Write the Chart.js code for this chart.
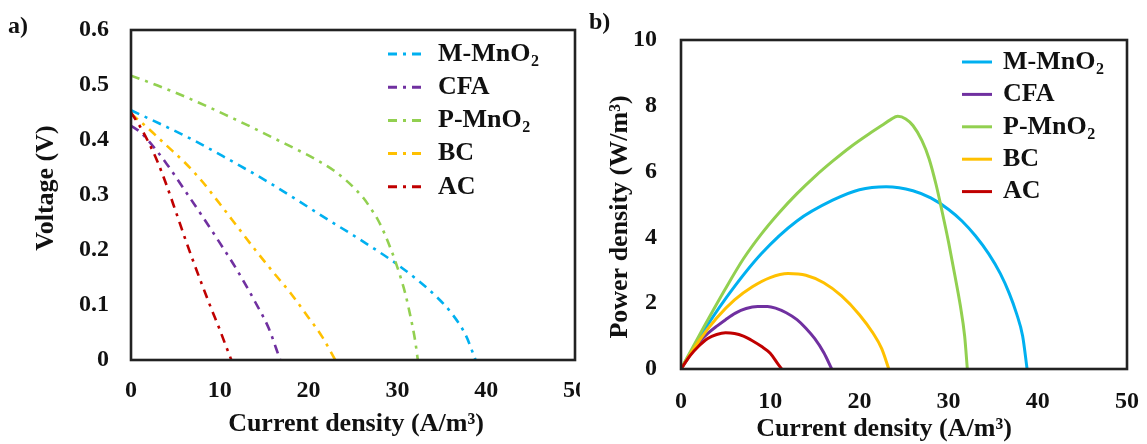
<!DOCTYPE html>
<html><head><meta charset="utf-8">
<script src="https://cdn.jsdelivr.net/npm/chart.js@4"></script>
<style>
html,body{margin:0;padding:0;background:#fff;width:1147px;height:444px;overflow:hidden;}
#ca{position:absolute;left:0;top:0;}
#cb{position:absolute;left:580px;top:0;}
.lab{position:absolute;font:bold 24px "Liberation Serif";color:#111;line-height:1;}
</style></head><body>
<canvas id="ca" width="580" height="444"></canvas>
<canvas id="cb" width="567" height="444"></canvas>
<div class="lab" style="left:8px;top:13px">a)</div>
<div class="lab" style="left:589px;top:9px">b)</div>
<script>
// ---------- data ----------
const seriesNames = ['M-MnO₂', 'CFA', 'P-MnO₂', 'BC', 'AC'];
const seriesColors = ['#00b0f0', '#7030a0', '#92d050', '#ffc000', '#c00000'];
const xTitle = 'Current density (A/m³)';
const yTitleA = 'Voltage (V)';
const yTitleB = 'Power density (W/m³)';

// panel a: voltage (V) vs current density (A/m3)
const iV_M = [0, 3.2, 7, 10.3, 12.4, 15.3, 18.6, 21.5, 24.9, 27.8, 29.8, 32.3, 34.4, 36.1, 37.7, 38.8];
const v_M  = [0.454, 0.43, 0.40, 0.371, 0.352, 0.325, 0.292, 0.262, 0.228, 0.198, 0.176, 0.145, 0.115, 0.085, 0.045, 0];
const iV_C = [0, 1, 2, 4, 6, 8, 10, 12, 14, 15.5, 16.8];
const v_C  = [0.426, 0.415, 0.398, 0.357, 0.31, 0.262, 0.213, 0.162, 0.105, 0.058, 0];
const iV_P = [0, 3, 6.2, 9, 11, 13.5, 16.5, 19, 20.9, 22.8, 24.2, 25.3, 26.2, 26.9, 27.8, 28.6, 29.3, 29.8, 30.4, 30.9, 31.5, 32, 32.3];
const v_P  = [0.517, 0.499, 0.478, 0.458, 0.443, 0.424, 0.40, 0.38, 0.364, 0.345, 0.327, 0.31, 0.294, 0.278, 0.255, 0.228, 0.2, 0.178, 0.148, 0.12, 0.077, 0.035, 0];
const iV_B = [0, 2, 4, 6, 8, 10, 12, 14, 16, 18, 20, 21.5, 23];
const v_B  = [0.448, 0.42, 0.39, 0.36, 0.325, 0.284, 0.242, 0.2, 0.16, 0.121, 0.077, 0.043, 0];
const iV_A = [0, 1, 2, 3, 4, 5, 6, 7, 8, 9, 10, 10.7, 11.3];
const v_A  = [0.45, 0.425, 0.395, 0.36, 0.318, 0.272, 0.225, 0.18, 0.137, 0.095, 0.055, 0.025, 0];

// panel b: power density (W/m3) vs current density (A/m3)
const iP_M = [0, 2, 4.9, 9, 13, 17, 20, 23, 26, 28, 30, 31.5, 33, 34.5, 35.8, 36.8, 37.6, 38.3, 38.8];
const p_M  = [0, 0.92, 2.1, 3.5, 4.5, 5.13, 5.45, 5.54, 5.42, 5.2, 4.85, 4.5, 4.05, 3.5, 2.9, 2.3, 1.7, 1.0, 0];
const iP_C = [0, 1, 2, 3, 4.1, 5, 6.1, 7.3, 8.6, 9.7, 10.6, 11.8, 13, 14, 15, 16, 16.9];
const p_C  = [0, 0.42, 0.8, 1.08, 1.32, 1.5, 1.7, 1.84, 1.9, 1.9, 1.85, 1.71, 1.5, 1.24, 0.92, 0.5, 0];
const iP_P = [0, 2, 4.9, 7, 9, 11, 13, 15, 17.1, 19, 21.1, 22.5, 23.5, 24.3, 25.2, 26, 27, 27.8, 28.6, 29.3, 30, 30.7, 31.3, 31.8, 32.1];
const p_P  = [0, 1.0, 2.4, 3.35, 4.1, 4.75, 5.33, 5.85, 6.34, 6.75, 7.15, 7.4, 7.58, 7.68, 7.6, 7.4, 6.95, 6.4, 5.6, 4.75, 3.85, 2.85, 1.95, 1.0, 0];
const iP_B = [0, 2, 4, 6, 8, 10, 12, 14, 16, 18, 20, 21.5, 22.5, 23.3];
const p_B  = [0, 0.85, 1.55, 2.1, 2.5, 2.78, 2.9, 2.85, 2.62, 2.22, 1.65, 1.1, 0.62, 0];
const iP_A = [0, 1, 2, 3, 4, 5, 6, 7, 8, 9, 10, 10.8, 11.3];
const p_A  = [0, 0.4, 0.7, 0.93, 1.05, 1.1, 1.08, 1.0, 0.86, 0.69, 0.48, 0.18, 0];

const xTicks = [0, 10, 20, 30, 40, 50];
const yTicksA = [0, 0.1, 0.2, 0.3, 0.4, 0.5, 0.6];
const yTicksB = [0, 2, 4, 6, 8, 10];

// ---------- helpers ----------
const FONT = 'Liberation Serif';
const TXT = '#111';
function pts(xs, ys) { return xs.map((x, i) => ({x: x, y: ys[i]})); }

const boxLegend = {
  id: 'boxLegend',
  afterDatasetsDraw(chart, args, o) {
    const ctx = chart.ctx, a = chart.chartArea;
    ctx.save();
    ctx.strokeStyle = '#222';
    ctx.lineWidth = 2.6;
    ctx.strokeRect(a.left, a.top, a.right - a.left, a.bottom - a.top);
    // axis titles
    ctx.fillStyle = TXT;
    ctx.textAlign = 'center';
    ctx.textBaseline = 'middle';
    ctx.font = 'bold 26px "' + FONT + '"';
    ctx.fillText(o.xt.text, o.xt.x, o.xt.y);
    ctx.save();
    ctx.translate(o.yt.x, o.yt.y);
    ctx.rotate(-Math.PI / 2);
    ctx.fillText(o.yt.text, 0, 0);
    ctx.restore();
    // legend
    chart.data.datasets.forEach((ds, i) => {
      const y = o.y0 + i * o.dy;
      ctx.strokeStyle = ds.borderColor;
      ctx.lineWidth = 3;
      ctx.setLineDash(o.dash || []);
      ctx.beginPath(); ctx.moveTo(o.x0, y); ctx.lineTo(o.x1, y); ctx.stroke();
      ctx.setLineDash([]);
      ctx.fillStyle = TXT;
      ctx.textBaseline = 'middle';
      ctx.textAlign = 'left';
      const parts = ds.label.split('₂');
      let x = o.tx;
      parts.forEach((p, k) => {
        ctx.font = 'bold ' + o.size + 'px "' + FONT + '"';
        ctx.fillText(p, x, y);
        x += ctx.measureText(p).width;
        if (k < parts.length - 1) {
          ctx.font = 'bold ' + Math.round(o.size * 0.62) + 'px "' + FONT + '"';
          ctx.fillText('2', x + 0.5, y + o.size * 0.3);
          x += ctx.measureText('2').width + 0.5;
        }
      });
    });
    ctx.restore();
  }
};

function makeChart(id, sets, opt) {
  const datasets = sets.map((s, i) => ({
    label: seriesNames[i],
    data: pts(s[0], s[1]),
    borderColor: seriesColors[i],
    backgroundColor: seriesColors[i],
    borderWidth: opt.lw,
    borderDash: opt.dash || [],
    pointRadius: 0,
    fill: false,
    cubicInterpolationMode: 'monotone',
    order: 5 - i
  }));
  const tickFont = {family: FONT, size: 24, weight: 'bold'};
  return new Chart(document.getElementById(id), {
    type: 'line',
    data: {datasets: datasets},
    options: {
      responsive: false,
      animation: false,
      events: [],
      layout: {padding: opt.pad},
      plugins: {legend: {display: false}, tooltip: {enabled: false}, boxLegend: opt.legend},
      scales: {
        x: {
          type: 'linear', min: 0, max: 50,
          afterBuildTicks(s) { s.ticks = xTicks.map(v => ({value: v})); },
          ticks: {padding: opt.xtp, color: TXT, font: tickFont, maxRotation: 0, autoSkip: false},
          grid: {display: false, drawTicks: false},
          border: {display: false},
          title: {display: false, text: xTitle},
          afterFit(s) { s.height = opt.xh; s.paddingLeft = 0; s.paddingRight = 0; }
        },
        y: {
          type: 'linear', min: 0, max: opt.ymax,
          afterBuildTicks(s) { s.ticks = opt.yticks.map(v => ({value: v})); },
          ticks: {padding: opt.ytp, color: TXT, font: tickFont, autoSkip: false,
                  callback: v => String(v)},
          grid: {display: false, drawTicks: false},
          border: {display: false},
          title: {display: false, text: opt.ytitle},
          afterFit(s) { s.width = opt.yw; s.paddingTop = 0; s.paddingBottom = 0; }
        }
      }
    },
    plugins: [boxLegend]
  });
}

makeChart('ca',
  [[iV_M, v_M], [iV_C, v_C], [iV_P, v_P], [iV_B, v_B], [iV_A, v_A]],
  {lw: 2.6, dash: [9, 6, 3, 6], pad: {left: 0, right: 5, top: 30, bottom: 0},
   xh: 84, yw: 131, ymax: 0.6, yticks: yTicksA, ytitle: yTitleA,
   xtp: 16, ytp: 22,
   legend: {x0: 388, x1: 426, y0: 54, dy: 33.2, tx: 438, size: 26, dash: [9, 6, 3, 6],
            xt: {text: xTitle, x: 356, y: 424}, yt: {text: yTitleA, x: 46, y: 188}}});

makeChart('cb',
  [[iP_M, p_M], [iP_C, p_C], [iP_P, p_P], [iP_B, p_B], [iP_A, p_A]],
  {lw: 3, pad: {left: 0, right: 20, top: 40, bottom: 0},
   xh: 75, yw: 101, ymax: 10, yticks: yTicksB, ytitle: yTitleB,
   xtp: 18, ytp: 24,
   legend: {x0: 962 - 580, x1: 992 - 580, y0: 62, dy: 32.4, tx: 1003 - 580, size: 26,
            xt: {text: xTitle, x: 884 - 580, y: 429}, yt: {text: yTitleB, x: 40, y: 217}}});
</script>
</body></html>
